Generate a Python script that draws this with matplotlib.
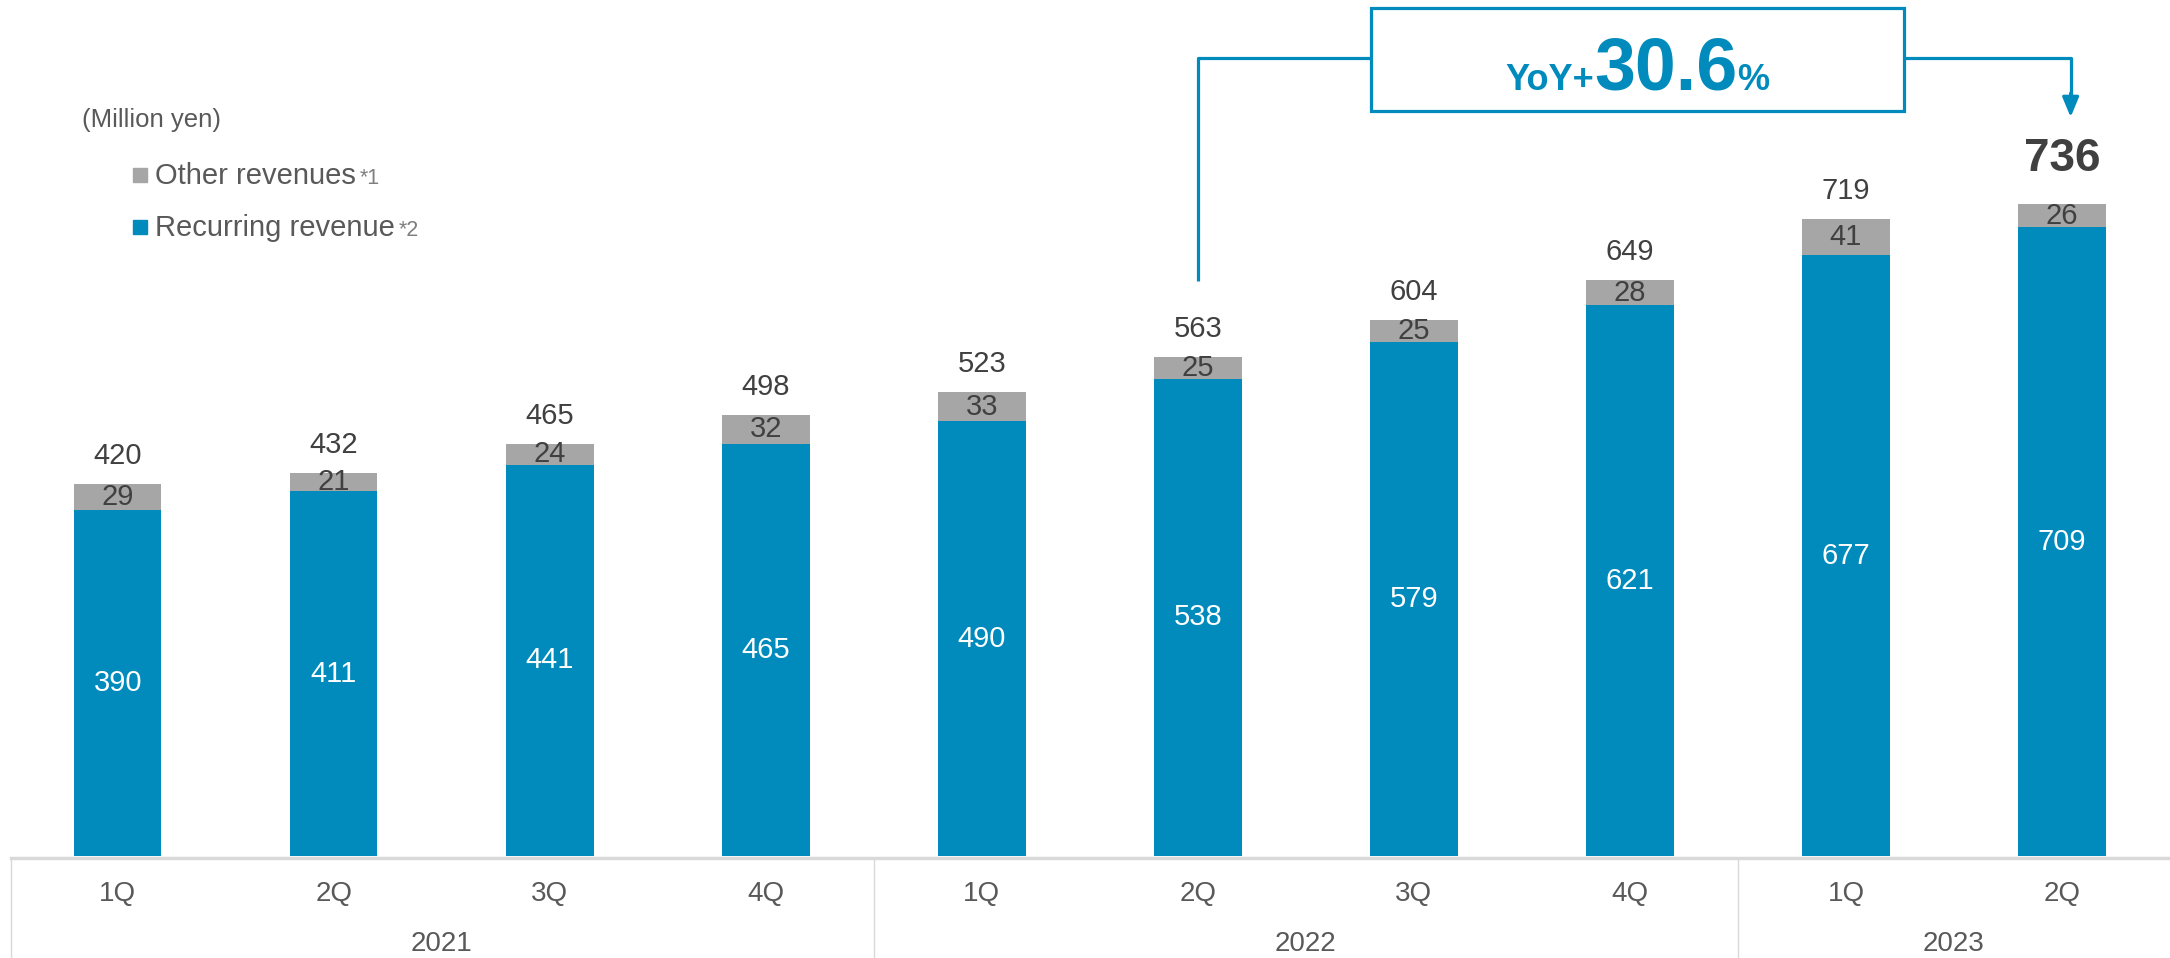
import numpy as np
import matplotlib
matplotlib.use("Agg")
import matplotlib.pyplot as plt
from matplotlib.patches import Rectangle
from matplotlib.lines import Line2D
from matplotlib.transforms import blended_transform_factory, IdentityTransform

plt.rcParams['font.family'] = ['Liberation Sans', 'DejaVu Sans']

quarters = ["1Q", "2Q", "3Q", "4Q", "1Q", "2Q", "3Q", "4Q", "1Q", "2Q"]
years = ["2021", "2022", "2023"]
year_spans = [(0, 3), (4, 7), (8, 9)]
recurring = [390, 411, 441, 465, 490, 538, 579, 621, 677, 709]
other = [29, 21, 24, 32, 33, 25, 25, 28, 41, 26]
totals = [420, 432, 465, 498, 523, 563, 604, 649, 719, 736]
yoy_text = ["YoY+", "30.6", "%"]

BLUE = "#008BBC"
GRAY = "#A6A6A6"
DARK = "#404040"
MID = "#595959"
LINEGRAY = "#D9D9D9"

W, H = 2170, 958
fig = plt.figure(figsize=(W / 100, H / 100), dpi=100)
base_px = 856
ax = fig.add_axes([11 / W, (H - base_px) / H, (W - 11) / W, base_px / H])
x = np.arange(len(quarters))
bw = 0.405
ax.bar(x, recurring, width=bw, color=BLUE, zorder=2)
ax.bar(x, other, bottom=recurring, width=bw, color=GRAY, zorder=2)
ax.set_xlim(-0.494, 9.5)
ax.set_ylim(0, 965)
ax.axis("off")

for i in range(len(x)):
    r, o, t = recurring[i], other[i], totals[i]
    ax.text(i, r / 2, str(r), ha="center", va="center", color="white", fontsize=21, zorder=3)
    ax.text(i, r + o / 2, str(o), ha="center", va="center", color=DARK, fontsize=21, zorder=3)
    if i == len(x) - 1:
        ax.annotate(str(t), (i, r + o), xytext=(0, 45), textcoords="offset pixels",
                    ha="center", va="center", fontsize=33, fontweight="bold", color=DARK)
    else:
        ax.annotate(str(t), (i, r + o), xytext=(0, 28), textcoords="offset pixels",
                    ha="center", va="center", fontsize=21, color=DARK)

# category axis table
tr = blended_transform_factory(ax.transData, fig.transFigure)
for i, q in enumerate(quarters):
    ax.text(i, 1 - 894 / H, q, transform=tr, ha="center", va="center", fontsize=20, color=MID)
for yname, (a, b) in zip(years, year_spans):
    ax.text((a + b) / 2, 1 - 944 / H, yname, transform=tr, ha="center", va="center", fontsize=20, color=MID)

fig.add_artist(Line2D([11 / W, 1], [1 - 858 / H] * 2, color=LINEGRAY, lw=2.5, transform=fig.transFigure))
for sep in [-0.494, 3.5, 7.5]:
    ax.plot([sep, sep], [1 - 858 / H, 0], transform=tr, color=LINEGRAY, lw=1, clip_on=False)

# YoY connector and box
lw = 2.3
ax.plot([5, 5, 5.80], [648, 900, 900], color=BLUE, lw=lw, clip_on=False, solid_capstyle="butt")
ax.add_patch(Rectangle((5.80, 840), 2.47, 116, fill=False, edgecolor=BLUE, lw=lw, clip_on=False))
ax.plot([8.27, 9.04, 9.04], [900, 900, 850], color=BLUE, lw=lw, clip_on=False, solid_capstyle="butt")
ax.annotate("", xy=(9.04, 833), xytext=(9.04, 860),
            arrowprops=dict(arrowstyle="-|>,head_length=0.6,head_width=0.25", color=BLUE, lw=lw,
                            mutation_scale=20, shrinkA=0, shrinkB=0), annotation_clip=False)

renderer = fig.canvas.get_renderer()
sizes = [26, 53, 26]
cx, by = ax.transData.transform((7.035, 864))
texts = []
for s, fs in zip(yoy_text, sizes):
    t = fig.text(0, by, s, transform=IdentityTransform(), fontsize=fs, fontweight="bold",
                 color=BLUE, ha="left", va="baseline")
    texts.append(t)
widths = [t.get_window_extent(renderer).width for t in texts]
cur = cx - sum(widths) / 2
for t, w in zip(texts, widths):
    t.set_x(cur)
    cur += w

# legend
fig.text(82 / W, 1 - 120 / H, "(Million yen)", fontsize=18.5, color=MID, ha="left", va="center")
legend_items = [("Other revenues", "*1", GRAY, 175), ("Recurring revenue", "*2", BLUE, 227)]
for label, note, col, yc in legend_items:
    fig.add_artist(Rectangle((133 / W, 1 - (yc + 7) / H), 14 / W, 14 / H, color=col,
                             transform=fig.transFigure))
    t = fig.text(155 / W, 1 - (yc + 9) / H, label, fontsize=21, color=MID, ha="left", va="baseline")
    ext = t.get_window_extent(renderer)
    fig.text(ext.x1 / W + 4 / W, 1 - (yc + 9) / H, note, fontsize=15.5, color="#7F7F7F",
             ha="left", va="baseline")

fig.savefig("out.png", dpi=100)
